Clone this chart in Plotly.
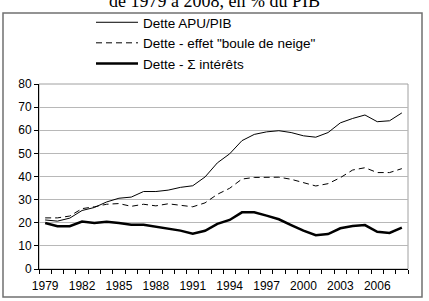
import plotly.graph_objects as go

years = list(range(1979, 2009))
dette_apu = [21.2, 20.7, 22.0, 25.3, 26.6, 29.0, 30.6, 31.1, 33.5, 33.5,
             34.1, 35.3, 36.0, 39.8, 45.9, 49.8, 55.5, 58.2, 59.3, 59.8,
             59.0, 57.6, 57.0, 59.0, 63.2, 65.1, 66.6, 63.7, 64.1, 67.5]
dette_bdn = [22.1, 22.1, 22.9, 26.1, 26.9, 28.0, 28.3, 27.1, 28.0, 27.3,
             28.2, 27.6, 26.9, 28.6, 32.3, 34.9, 38.9, 39.6, 39.7, 39.7,
             38.8, 37.3, 35.9, 36.9, 39.5, 42.8, 43.8, 41.7, 41.7, 43.4]
dette_int = [19.9, 18.5, 18.5, 20.5, 19.9, 20.4, 19.9, 19.1, 19.1, 18.2,
             17.3, 16.6, 15.3, 16.5, 19.5, 21.2, 24.5, 24.5, 23.1, 21.5,
             19.0, 16.6, 14.6, 15.1, 17.6, 18.6, 19.0, 16.1, 15.6, 17.9]
label_years = list(range(1979, 2009, 3))
names = ["Dette APU/PIB", "Dette - effet \"boule de neige\"", "Dette - \u03a3 int\u00e9r\u00eats"]
title_text = "de 1979 \u00e0 2008, en % du PIB"

fig = go.Figure()
fig.add_trace(go.Scatter(x=years, y=dette_apu, mode="lines", name=names[0],
                         line=dict(color="black", width=1)))
fig.add_trace(go.Scatter(x=years, y=dette_bdn, mode="lines", name=names[1],
                         line=dict(color="black", width=1, dash="6px,4px")))
fig.add_trace(go.Scatter(x=years, y=dette_int, mode="lines", name=names[2],
                         line=dict(color="black", width=2.5)))

L, R, T, B = 39, 21, 84, 32
W, H = 429, 301
pw, ph = W - L - R, H - T - B

def px(x):
    return (x - L) / pw

def py(y):
    return (H - B - y) / ph

fig.update_layout(
    width=W, height=H,
    margin=dict(l=L, r=R, t=T, b=B, pad=0, autoexpand=False),
    paper_bgcolor="white", plot_bgcolor="white",
    font=dict(family="Liberation Sans, Arial, sans-serif", size=12, color="black"),
    showlegend=True,
    legend=dict(x=px(91), y=py(7), xanchor="left", yanchor="top",
                bgcolor="rgba(0,0,0,0)", font=dict(size=13.5, color="black"),
                itemwidth=42, tracegroupgap=0, traceorder="normal"),
    xaxis=dict(range=[1978.5, 2008.5], tickmode="array", tickvals=label_years,
               ticktext=[str(y) for y in label_years], ticks="", showgrid=False,
               showline=True, linecolor="black", linewidth=1, zeroline=False,
               tickfont=dict(size=12), ticklabelstandoff=6,
               minor=dict(tickmode="array", tickvals=[y + 0.5 for y in range(1978, 2009)],
                          ticks="outside", ticklen=4, tickcolor="black", showgrid=False)),
    yaxis=dict(range=[0, 80], dtick=10, tick0=0, ticks="outside", ticklen=4,
               tickcolor="black", showgrid=True, gridcolor="#b8b8b8", gridwidth=1,
               showline=True, linecolor="black", linewidth=1, zeroline=False,
               tickfont=dict(size=12)),
    shapes=[
        dict(type="rect", xref="paper", yref="paper", x0=0, x1=1, y0=0, y1=1,
             line=dict(color="#a0a0a0", width=1), layer="below"),
        dict(type="rect", xref="paper", yref="paper",
             x0=px(3), x1=px(422), y0=py(297), y1=py(13),
             line=dict(color="#707070", width=1.5)),
    ],
    annotations=[
        dict(text=title_text, xref="paper", yref="paper", x=px(214), y=py(13),
             xanchor="center", yanchor="bottom", showarrow=False,
             font=dict(family="Liberation Serif, Times New Roman, serif", size=18, color="black")),
    ],
)

fig.write_html("out.html")
